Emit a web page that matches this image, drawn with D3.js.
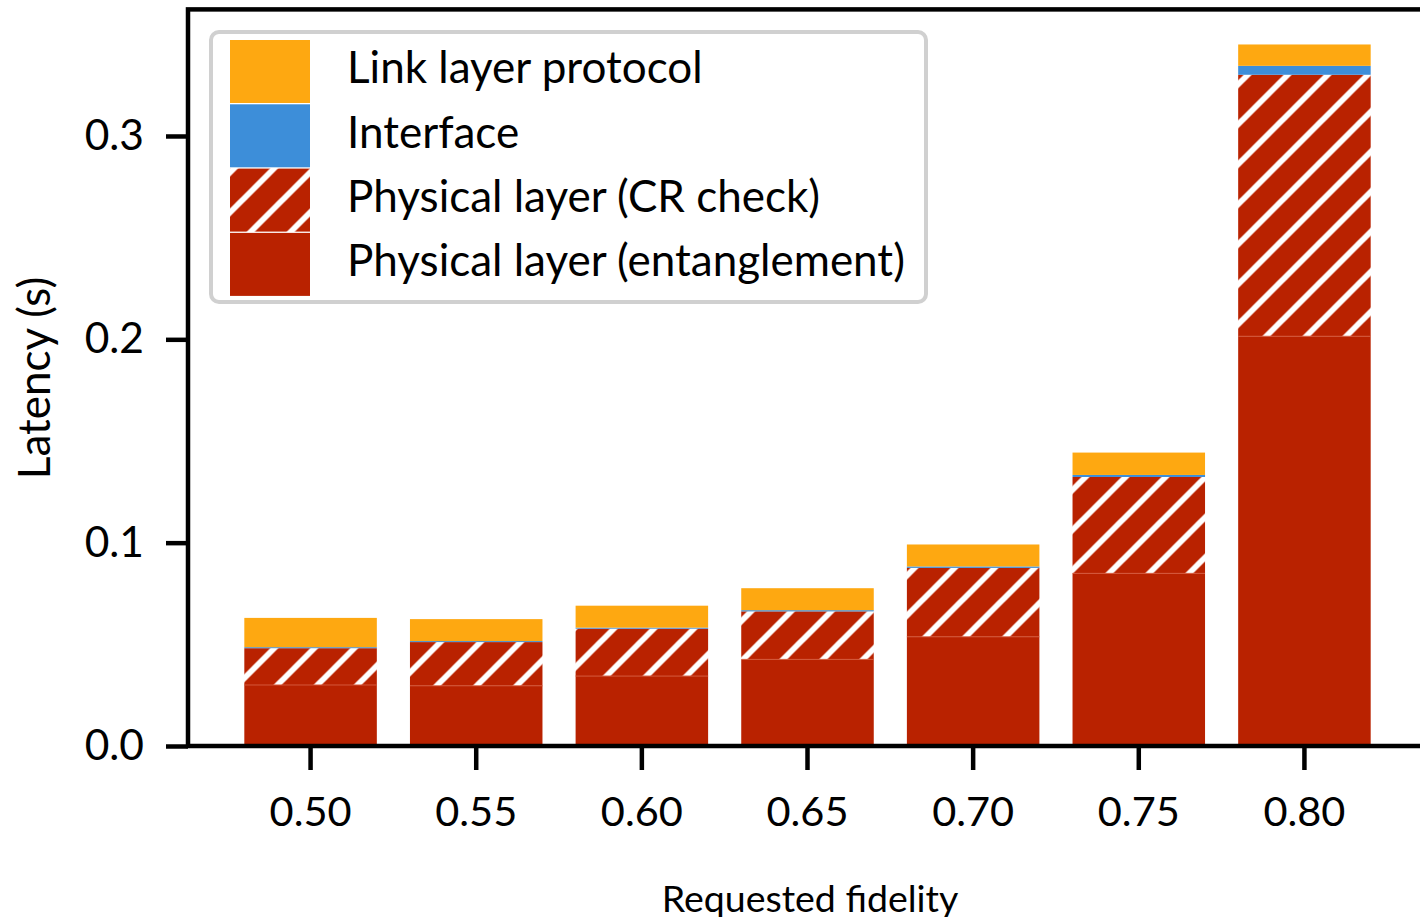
<!DOCTYPE html>
<html>
<head>
<meta charset="utf-8">
<script src="https://cdn.jsdelivr.net/npm/d3@7"></script>
<style>
  body { margin: 0; background: #fff; }
  svg { display: block; font-family: Lato, "Open Sans", sans-serif; }
</style>
</head>
<body>
<svg id="svg" width="1420" height="917"></svg>
<script>
// data (seconds)
const fidelities = ["0.50", "0.55", "0.60", "0.65", "0.70", "0.75", "0.80"];
const entanglement = [0.0300, 0.0296, 0.0344, 0.0426, 0.0537, 0.0849, 0.2015];
const crCheck      = [0.0181, 0.0215, 0.0233, 0.0236, 0.0339, 0.0474, 0.1286];
const iface        = [0.0005, 0.0005, 0.0005, 0.0006, 0.0007, 0.0010, 0.0044];
const linkLayer    = [0.0144, 0.0108, 0.0108, 0.0108, 0.0108, 0.0110, 0.0105];
const yTicks = [0, 0.1, 0.2, 0.3];

const seriesNames = ["entanglement", "crCheck", "iface", "linkLayer"];
const legendLabels = ["Link layer protocol", "Interface", "Physical layer (CR check)", "Physical layer (entanglement)"];

const red = "#b92200", blue = "#3d8ed9", orange = "#fea811";
const fills = { entanglement: red, crCheck: "url(#hatch)", iface: blue, linkLayer: orange };

const plot = { left: 188, right: 1427, top: 9.4, bottom: 746 };

const svg = d3.select("#svg");

const table = fidelities.map((f, i) => ({
    fid: f,
    entanglement: entanglement[i],
    crCheck: crCheck[i],
    iface: iface[i],
    linkLayer: linkLayer[i]
}));
const stacked = d3.stack().keys(seriesNames)(table);
const maxTotal = d3.max(table, d => d.entanglement + d.crCheck + d.iface + d.linkLayer);

const x = d3.scaleBand()
    .domain(fidelities)
    .range([plot.left, plot.right])
    .paddingInner(0.2)
    .paddingOuter(0.34);
const y = d3.scaleLinear()
    .domain([0, maxTotal * 1.05])
    .range([plot.bottom, plot.top]);

// hatch pattern, "/" lines in white over red
const defs = svg.append("defs");
const pat = defs.append("pattern")
    .attr("id", "hatch")
    .attr("patternUnits", "userSpaceOnUse")
    .attr("x", 2.5).attr("y", 0)
    .attr("width", 40).attr("height", 40);
pat.append("rect").attr("width", 40).attr("height", 40).attr("fill", red);
[[-10, 10, 10, -10], [0, 40, 40, 0], [30, 50, 50, 30]].forEach(s => {
    pat.append("line")
        .attr("x1", s[0]).attr("y1", s[1]).attr("x2", s[2]).attr("y2", s[3])
        .attr("stroke", "#fff").attr("stroke-width", 5.8);
});

// bars
const layers = svg.append("g").selectAll("g")
    .data(stacked)
    .join("g")
    .attr("fill", d => fills[d.key]);
layers.selectAll("rect")
    .data(d => d)
    .join("rect")
    .attr("x", d => x(d.data.fid))
    .attr("width", x.bandwidth())
    .attr("y", d => y(d[1]))
    .attr("height", d => y(d[0]) - y(d[1]));

// faint edge on top of the solid part
svg.append("g").selectAll("line")
    .data(stacked[0])
    .join("line")
    .attr("x1", d => x(d.data.fid))
    .attr("x2", d => x(d.data.fid) + x.bandwidth())
    .attr("y1", d => y(d[1]))
    .attr("y2", d => y(d[1]))
    .attr("stroke", "#d4583a").attr("stroke-width", 1);

// axes
const yAxisCall = d3.axisLeft(y)
    .tickValues(yTicks)
    .tickFormat(d3.format(".1f"))
    .tickSize(22).tickSizeOuter(0).tickPadding(22);
const xAxisCall = d3.axisBottom(x)
    .tickSize(24).tickSizeOuter(0).tickPadding(27);

const gy = svg.append("g")
    .attr("transform", "translate(" + plot.left + ",0)")
    .call(yAxisCall);
const gx = svg.append("g")
    .attr("transform", "translate(0," + plot.bottom + ")")
    .call(xAxisCall);

[gx, gy].forEach(g => {
    g.select(".domain").remove();
    g.selectAll(".tick line").attr("stroke", "#000").attr("stroke-width", 4.5);
    g.selectAll(".tick text").attr("font-size", 41.5).attr("fill", "#000").attr("font-family", "Lato");
});
gy.selectAll(".tick text").attr("font-size", 42.5);

// frame
svg.append("rect")
    .attr("x", plot.left).attr("y", plot.top)
    .attr("width", plot.right - plot.left)
    .attr("height", plot.bottom - plot.top)
    .attr("fill", "none").attr("stroke", "#000").attr("stroke-width", 4.5);

// axis labels
svg.append("text")
    .attr("transform", "translate(50,378) rotate(-90)")
    .attr("text-anchor", "middle")
    .attr("font-size", 44)
    .text("Latency (s)");
svg.append("text")
    .attr("x", 810).attr("y", 912)
    .attr("text-anchor", "middle")
    .attr("font-size", 37.5)
    .text("Requested fidelity");

// legend
const legend = svg.append("g");
legend.append("rect")
    .attr("x", 211).attr("y", 32)
    .attr("width", 715).attr("height", 270)
    .attr("rx", 8)
    .attr("fill", "#fff").attr("stroke", "#d0d0d0").attr("stroke-width", 4);
const legendFills = [orange, blue, "url(#hatch)", red];
const rowH = 64.3;
legendLabels.forEach((lab, i) => {
    const top = 40 + i * rowH;
    legend.append("rect")
        .attr("x", 230).attr("y", top)
        .attr("width", 80).attr("height", 63)
        .attr("fill", legendFills[i]);
    legend.append("text")
        .attr("x", 347).attr("y", top + 28)
        .attr("dy", "0.35em")
        .attr("font-size", 44)
        .text(lab);
});
</script>
</body>
</html>
